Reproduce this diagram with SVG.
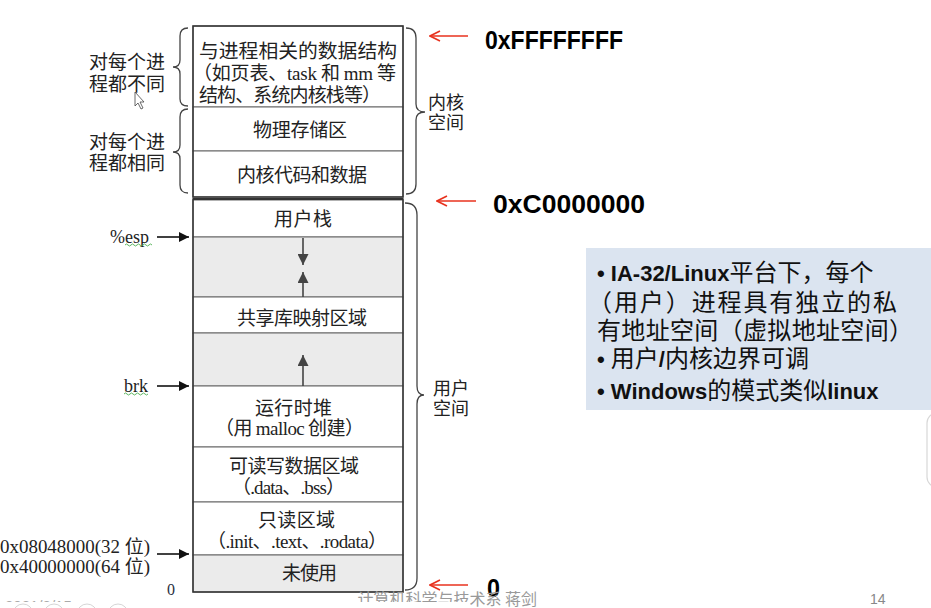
<svg xmlns="http://www.w3.org/2000/svg" width="931" height="608" viewBox="0 0 931 608">
<style>
.cj{font-family:"Noto Sans CJK SC","Liberation Sans",sans-serif;font-size:19px;fill:#222}
.sr{font-family:"Liberation Serif","Noto Sans CJK SC",serif}
.lbl{font-family:"Liberation Serif","Noto Sans CJK SC",serif;font-size:18px;fill:#222}
.addr{font-family:"Liberation Sans",sans-serif;font-weight:bold;font-size:26px;fill:#000}
.row{stroke:#666;stroke-width:1}
.white{fill:#fff}
.grey{fill:#ebebeb}
.brace{fill:none;stroke:#444;stroke-width:1.3}
.red{stroke:#e8321e;stroke-width:1.6;fill:none}
.blk{stroke:#111;stroke-width:1.6;fill:none}
.inner{stroke:#444;stroke-width:1.6;fill:none}
.info{font-family:"Noto Sans CJK SC","Liberation Sans",sans-serif;font-size:24px;fill:#111}
.b{font-family:"Liberation Sans","Noto Sans CJK SC",sans-serif;font-weight:bold;font-size:22px}
.wavy{fill:none;stroke:#4caf50;stroke-width:0.9}
.side{font-size:18px}
</style>
<defs>
<marker id="ab" viewBox="0 0 10 10" refX="10" refY="5" markerWidth="10" markerHeight="10" markerUnits="userSpaceOnUse" orient="auto"><path d="M0,0 L10,5 L0,10 Z" fill="#111"/></marker>
<marker id="ag" viewBox="0 0 10 10" refX="10" refY="5" markerWidth="11" markerHeight="11" markerUnits="userSpaceOnUse" orient="auto"><path d="M0,0 L10,5 L0,10 Z" fill="#444"/></marker>
<marker id="ar" viewBox="0 0 12 12" refX="11" refY="6" markerWidth="12" markerHeight="12" markerUnits="userSpaceOnUse" orient="auto"><path d="M1,1 L11,6 L1,11" fill="none" stroke="#e8321e" stroke-width="1.6"/></marker>
</defs>
<rect width="931" height="608" fill="#fff"/>

<!-- kernel rows -->
<g id="k-row1">
<rect x="193" y="26" width="210" height="81" class="white row"/>
<text class="cj" x="199" y="58" textLength="198" lengthAdjust="spacingAndGlyphs">与进程相关的数据结构</text>
<text class="cj" x="193" y="80" textLength="203" lengthAdjust="spacing">（如页表、<tspan class="sr">task</tspan> 和 <tspan class="sr">mm</tspan> 等</text>
<text class="cj" x="199" y="102" textLength="182" lengthAdjust="spacing">结构、系统内核栈等）</text>
</g>
<g id="k-row2">
<rect x="193" y="107" width="210" height="44" class="white row"/>
<text class="cj" x="253" y="137" textLength="94" lengthAdjust="spacing">物理存储区</text>
</g>
<g id="k-row3">
<rect x="193" y="151" width="210" height="46" class="white row"/>
<text class="cj" x="237" y="182" textLength="130" lengthAdjust="spacing">内核代码和数据</text>
</g>

<!-- user rows -->
<g id="u-stack">
<rect x="193" y="200" width="210" height="37" class="white row"/>
<text class="cj" x="274" y="226" textLength="58" lengthAdjust="spacing">用户栈</text>
</g>
<g id="u-gap1"><rect x="193" y="237" width="210" height="60" class="grey row"/></g>
<g id="u-shared">
<rect x="193" y="297" width="210" height="36" class="white row"/>
<text class="cj" x="237" y="325" textLength="130" lengthAdjust="spacing">共享库映射区域</text>
</g>
<g id="u-gap2"><rect x="193" y="333" width="210" height="53" class="grey row"/></g>
<g id="u-heap">
<rect x="193" y="386" width="210" height="61" class="white row"/>
<text class="cj" x="255" y="415" textLength="77" lengthAdjust="spacing">运行时堆</text>
<text class="cj" x="215" y="435" textLength="149" lengthAdjust="spacing">（用 <tspan class="sr">malloc</tspan> 创建）</text>
</g>
<g id="u-data">
<rect x="193" y="447" width="210" height="55" class="white row"/>
<text class="cj" x="229" y="473" textLength="130" lengthAdjust="spacing">可读写数据区域</text>
<text class="cj" x="232" y="494" textLength="113" lengthAdjust="spacing">（<tspan class="sr">.data</tspan>、<tspan class="sr">.bss</tspan>）</text>
</g>
<g id="u-ro">
<rect x="193" y="502" width="210" height="53" class="white row"/>
<text class="cj" x="258" y="527" textLength="77" lengthAdjust="spacing">只读区域</text>
<text class="cj" x="207" y="548" textLength="180" lengthAdjust="spacing">（<tspan class="sr">.init</tspan>、<tspan class="sr">.text</tspan>、<tspan class="sr">.rodata</tspan>）</text>
</g>
<g id="u-unused">
<rect x="193" y="555" width="210" height="37" class="grey row"/>
<text class="cj" x="282" y="580" textLength="55" lengthAdjust="spacing">未使用</text>
</g>

<!-- outer frames -->
<g id="frames" fill="none" stroke="#333">
<rect x="193" y="26" width="210" height="171" stroke-width="1.5"/>
<rect x="193" y="199" width="210" height="393" stroke-width="1.5"/>
<line x1="193" y1="199" x2="403" y2="199" stroke-width="2.2"/>
</g>

<!-- braces and side labels -->
<g id="brace-diff">
<path class="brace" d="M188,28 Q180,28 180,36 L180,60 Q180,67 173,67 Q180,67 180,74 L180,99 Q180,106 188,106"/>
<text class="cj" x="89" y="69">对每个进</text>
<text class="cj" x="89" y="91">程都不同</text>
</g>
<g id="brace-same">
<path class="brace" d="M188,109 Q180,109 180,117 L180,145 Q180,152 173,152 Q180,152 180,159 L180,185 Q180,193 188,193"/>
<text class="cj" x="89" y="149">对每个进</text>
<text class="cj" x="89" y="170">程都相同</text>
</g>
<g id="brace-kernel">
<path class="brace" d="M406,28 Q416,28 416,38 L416,104 Q416,112 425,112 Q416,112 416,120 L416,184 Q416,194 406,194"/>
<text class="cj side" x="428" y="109">内核</text>
<text class="cj side" x="428" y="129">空间</text>
</g>
<g id="brace-user">
<path class="brace" d="M405,203 Q417,203 417,215 L417,386 Q417,395 424,395 Q417,395 417,404 L417,578 Q417,590 405,590"/>
<text class="cj side" x="433" y="395">用户</text>
<text class="cj side" x="433" y="415">空间</text>
</g>

<!-- left pointer labels -->
<g id="lbl-esp">
<text class="lbl" x="110" y="243">%esp</text>
<path class="wavy" d="M125,245 q1.5,-2 3,0 t3,0 t3,0 t3,0 t3,0 t3,0 t3,0 t3,0 t3,0"/>
</g>
<g id="lbl-brk">
<text class="lbl" x="124" y="392">brk</text>
<path class="wavy" d="M124,394 q1.5,-2 3,0 t3,0 t3,0 t3,0 t3,0 t3,0 t3,0 t3,0"/>
</g>
<g id="lbl-start">
<text class="lbl" x="0" y="553" textLength="150" lengthAdjust="spacingAndGlyphs">0x08048000(32 位)</text>
<text class="lbl" x="0" y="573" textLength="150" lengthAdjust="spacingAndGlyphs">0x40000000(64 位)</text>
</g>
<g id="lbl-zero"><text class="lbl" x="167" y="595" style="font-size:16px;fill:#2a3040">0</text></g>

<!-- address labels -->
<g id="addr-top"><text class="addr" x="485" y="49" textLength="138" lengthAdjust="spacingAndGlyphs">0xFFFFFFFF</text></g>
<g id="addr-mid"><text class="addr" x="493" y="213" textLength="152" lengthAdjust="spacingAndGlyphs">0xC0000000</text></g>
<g id="addr-zero"><text class="addr" x="487" y="597" textLength="13" lengthAdjust="spacingAndGlyphs">0</text></g>

<!-- connectors -->
<g id="connectors">
<line class="blk" x1="157" y1="237" x2="189" y2="237" marker-end="url(#ab)"/>
<line class="blk" x1="157" y1="386" x2="189" y2="386" marker-end="url(#ab)"/>
<line class="blk" x1="157" y1="554" x2="189" y2="554" marker-end="url(#ab)"/>
<line class="inner" x1="303" y1="238" x2="303" y2="265" marker-end="url(#ag)"/>
<line class="inner" x1="303" y1="297" x2="303" y2="272" marker-end="url(#ag)"/>
<line class="inner" x1="303" y1="386" x2="303" y2="355" marker-end="url(#ag)"/>
<line class="red" x1="468" y1="36" x2="430" y2="36" marker-end="url(#ar)"/>
<line class="red" x1="476" y1="201" x2="437" y2="201" marker-end="url(#ar)"/>
<line class="red" x1="468" y1="585" x2="430" y2="585" marker-end="url(#ar)"/>
</g>

<!-- info box -->
<g id="info">
<rect x="586" y="248" width="345" height="162" fill="#dbe4f0"/>
<text class="info" x="597" y="281"><tspan class="b">• IA-32/Linux</tspan>平台下，每个</text>
<text class="info" x="588" y="311" textLength="309" lengthAdjust="spacing">（用户）进程具有独立的私</text>
<text class="info" x="597" y="339" textLength="316" lengthAdjust="spacing">有地址空间（虚拟地址空间）</text>
<text class="info" x="597" y="367"><tspan class="b">• </tspan>用户<tspan class="b">/</tspan>内核边界可调</text>
<text class="info" x="597" y="399"><tspan class="b">• Windows</tspan>的模式类似<tspan class="b">linux</tspan></text>
</g>

<!-- cursor -->
<path d="M135,92 L135,106 L138,103 L141,109 L143,108 L140,102 L144,102 Z" fill="#fff" stroke="#444" stroke-width="0.8"/>

<!-- right edge shape -->
<rect x="927" y="413" width="40" height="74" rx="10" fill="#fff" stroke="#d8d8d8" stroke-width="1.2"/>

<!-- footer -->
<text x="537" y="605" text-anchor="end" style="font-family:'Noto Sans CJK SC',sans-serif;font-size:16px;fill:#999">计算机科学与技术系 蒋剑</text>
<text x="5" y="611" style="font-family:'Liberation Sans',sans-serif;font-size:15px;fill:#aaa">2021/3/15</text>
<text x="870" y="604" style="font-family:'Liberation Sans',sans-serif;font-size:14px;fill:#888">14</text>
<rect x="0" y="602" width="470" height="6" fill="#fff"/>
<g fill="none" stroke="#d6d6d6" stroke-width="1">
<circle cx="23" cy="614" r="10"/><circle cx="54" cy="614" r="10"/><circle cx="87" cy="614" r="10"/><circle cx="118" cy="614" r="10"/>
</g>
</svg>
